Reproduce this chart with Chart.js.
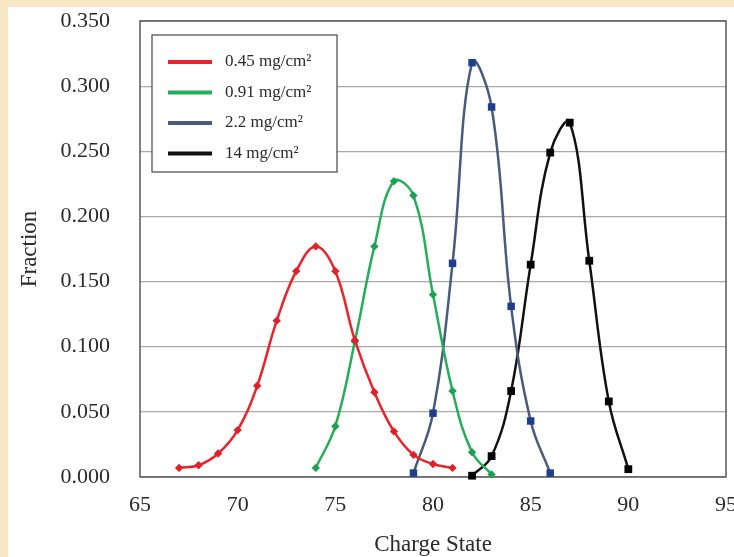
<!DOCTYPE html>
<html>
<head>
<meta charset="utf-8">
<script src="https://cdn.jsdelivr.net/npm/chart.js@4/dist/chart.umd.min.js"></script>
<style>
  html, body { margin: 0; padding: 0; width: 734px; height: 557px; overflow: hidden; background: #f8e6c4; }
  #frame { position: absolute; left: 8px; top: 7px; width: 726px; height: 550px; background: #ffffff; }
  canvas { display: block; }
</style>
</head>
<body>
<div id="frame"><canvas id="c" width="726" height="550"></canvas></div>
<script>
// Charge-state distributions for four target thicknesses
const seriesLabels = ['0.45 mg/cm\u00B2', '0.91 mg/cm\u00B2', '2.2 mg/cm\u00B2', '14 mg/cm\u00B2'];

const chargeA = [67, 68, 69, 70, 71, 72, 73, 74, 75, 76, 77, 78, 79, 80, 81];
const fractionA = [0.007, 0.009, 0.018, 0.036, 0.070, 0.120, 0.158, 0.177, 0.158, 0.105, 0.065, 0.035, 0.017, 0.010, 0.007];

const chargeB = [74, 75, 76, 77, 78, 79, 80, 81, 82, 83];
const fractionB = [0.007, 0.039, 0.104, 0.177, 0.227, 0.216, 0.140, 0.066, 0.019, 0.002];

const chargeC = [79, 80, 81, 82, 83, 84, 85, 86];
const fractionC = [0.003, 0.049, 0.164, 0.318, 0.284, 0.131, 0.043, 0.003];

const chargeD = [82, 83, 84, 85, 86, 87, 88, 89, 90];
const fractionD = [0.001, 0.016, 0.066, 0.163, 0.249, 0.272, 0.166, 0.058, 0.006];

const xTicks = [65, 70, 75, 80, 85, 90, 95];
const yTicks = [0, 0.05, 0.10, 0.15, 0.20, 0.25, 0.30, 0.35];

const pairs = (xs, ys) => xs.map((x, i) => ({ x: x, y: ys[i] }));

const styles = [
  { line: '#e8232b', point: '#e0202a', shape: 'rectRot', r: 4.2 },
  { line: '#25ad5c', point: '#1f9f52', shape: 'rectRot', r: 4.2 },
  { line: '#4a5a7a', point: '#1f3f8c', shape: 'rect', r: 5.3 },
  { line: '#111111', point: '#000000', shape: 'rect', r: 5.5 }
];

const seriesData = [pairs(chargeA, fractionA), pairs(chargeB, fractionB), pairs(chargeC, fractionC), pairs(chargeD, fractionD)];

const datasets = seriesData.map((d, i) => ({
  label: seriesLabels[i],
  data: d,
  borderColor: styles[i].line,
  backgroundColor: styles[i].point,
  pointBorderColor: styles[i].point,
  pointBackgroundColor: styles[i].point,
  pointStyle: styles[i].shape,
  pointRadius: styles[i].r,
  pointBorderWidth: 0,
  borderWidth: 2.5,
  tension: 0.4,
  fill: false,
  showLine: true,
  clip: false
}));

const serif = '"Liberation Serif", "Times New Roman", serif';
const inkColor = '#2a2a2a';

// Plot frame drawn on all four sides
const frameBox = {
  id: 'frameBox',
  beforeDatasetsDraw(chart) {
    const { ctx, chartArea: a } = chart;
    ctx.save();
    ctx.strokeStyle = '#5a5a5a';
    ctx.lineWidth = 1.5;
    ctx.strokeRect(a.left, a.top, a.right - a.left, a.bottom - a.top);
    ctx.restore();
  }
};

// Boxed legend in the upper-left corner of the plot
const boxLegend = {
  id: 'boxLegend',
  afterDatasetsDraw(chart) {
    const { ctx } = chart;
    const bx = 144, by = 28, bw = 185, bh = 137;
    ctx.save();
    ctx.fillStyle = '#ffffff';
    ctx.fillRect(bx, by, bw, bh);
    ctx.strokeStyle = '#555555';
    ctx.lineWidth = 1.3;
    ctx.strokeRect(bx, by, bw, bh);
    ctx.font = '17px ' + serif;
    ctx.textBaseline = 'middle';
    ctx.textAlign = 'left';
    chart.data.datasets.forEach((ds, i) => {
      const y = 55 + i * 30.5;
      ctx.strokeStyle = ds.borderColor;
      ctx.lineWidth = 4;
      ctx.beginPath();
      ctx.moveTo(160, y);
      ctx.lineTo(204, y);
      ctx.stroke();
      ctx.fillStyle = inkColor;
      ctx.fillText(ds.label, 217, y);
    });
    ctx.restore();
  }
};

new Chart(document.getElementById('c'), {
  type: 'scatter',
  data: { datasets: datasets },
  plugins: [frameBox, boxLegend],
  options: {
    responsive: false,
    animation: false,
    layout: { padding: { top: 14, right: 8, left: 0, bottom: 0 } },
    plugins: { legend: { display: false }, tooltip: { enabled: false } },
    scales: {
      x: {
        type: 'linear',
        min: 65, max: 95,
        afterBuildTicks(scale) { scale.ticks = xTicks.map(v => ({ value: v })); },
        afterFit(scale) { scale.height = 80; scale.paddingLeft = 0; scale.paddingRight = 0; },
        grid: { display: false, drawTicks: false },
        border: { display: false },
        ticks: { padding: 15, color: inkColor, font: { family: serif, size: 22 } },
        title: { display: true, text: 'Charge State', color: inkColor, padding: { top: 0, bottom: 1 }, font: { family: serif, size: 23, lineHeight: 1 } }
      },
      y: {
        min: 0, max: 0.35,
        afterBuildTicks(scale) { scale.ticks = yTicks.map(v => ({ value: v })); },
        afterFit(scale) { scale.width = 132; scale.paddingTop = 0; scale.paddingBottom = 0; },
        grid: { color: '#a9a9a9', lineWidth: 1.2, drawTicks: false },
        border: { display: false },
        ticks: { padding: 30, color: inkColor, font: { family: serif, size: 22 }, callback: v => Number(v).toFixed(3) },
        title: { display: true, text: 'Fraction', color: inkColor, padding: { top: 10, bottom: 0 }, font: { family: serif, size: 23, lineHeight: 1 } }
      }
    }
  }
});
</script>
</body>
</html>
